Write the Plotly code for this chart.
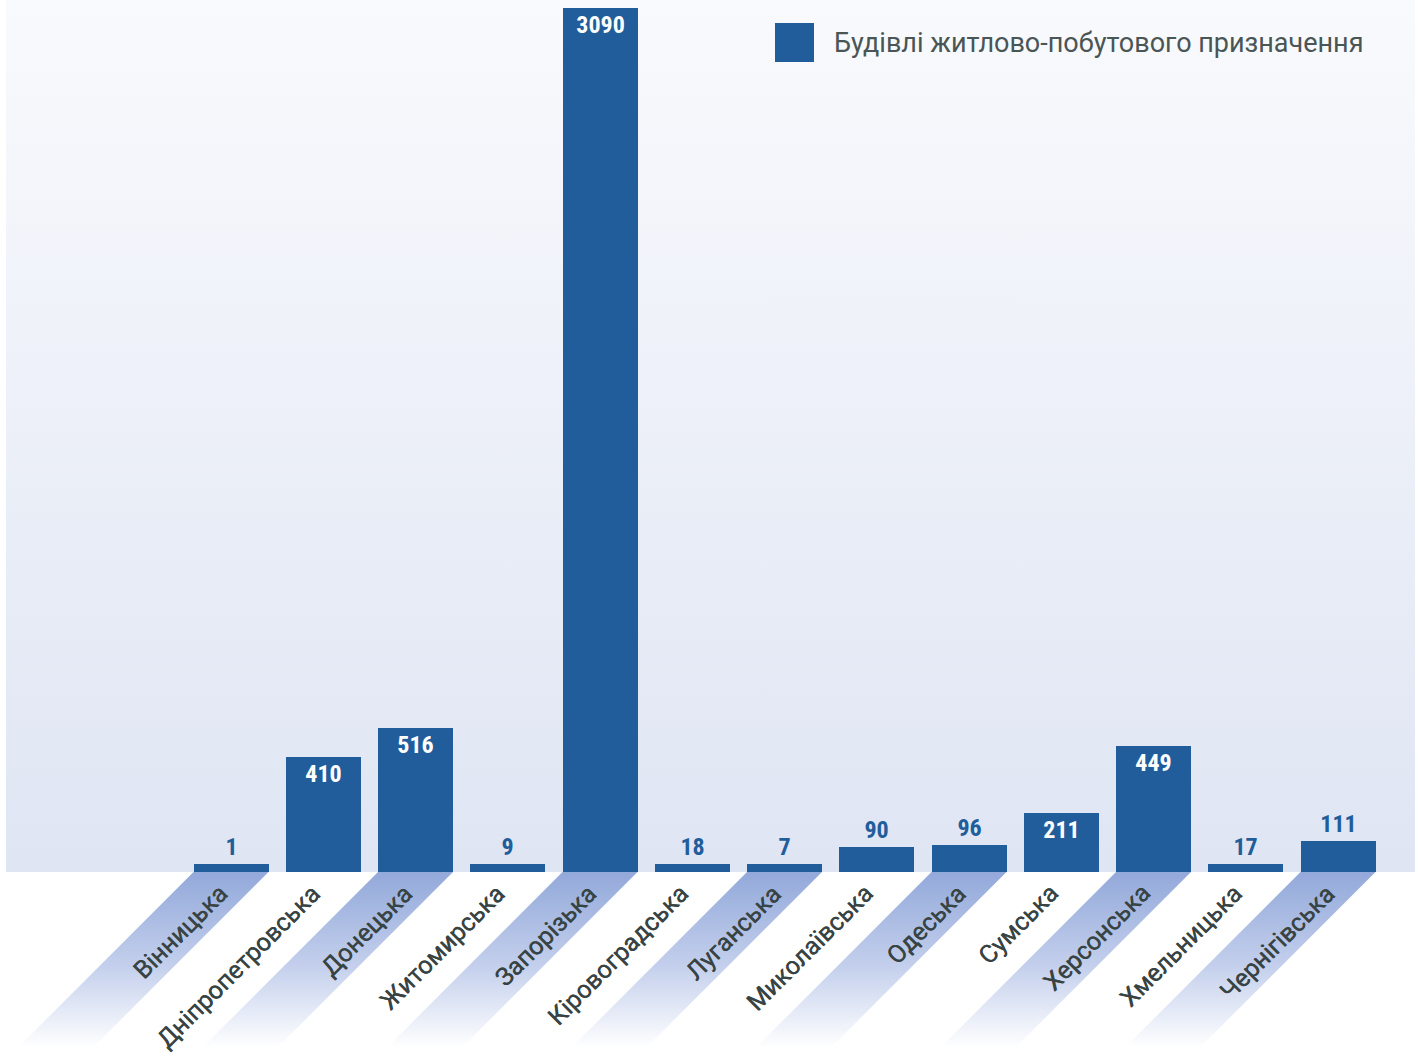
import plotly.graph_objects as go

# ---------------- data ----------------
categories = ["Вінницька", "Дніпропетровська", "Донецька", "Житомирська", "Запорізька",
              "Кіровоградська", "Луганська", "Миколаївська", "Одеська", "Сумська",
              "Херсонська", "Хмельницька", "Чернігівська"]
values = [1, 410, 516, 9, 3090, 18, 7, 90, 96, 211, 449, 17, 111]
series_name = "Будівлі житлово-побутового призначення"

# ---------------- geometry / style ----------------
W, H = 1418, 1059
PX0 = 231.0        # pixel x of first category centre
STEP = 92.25       # pixel distance between categories
BAR_PX = 75.0      # bar width in pixels
BASE_PX = 872.0    # pixel y of the value axis zero
TOP_PX = 8.0       # pixel y reached by the largest bar
MIN_BAR_PX = 8.0   # minimum visible bar height (as in the original chart)
PLOT_L, PLOT_R = 6.0, 1415.0

BAR = "#215d9b"
LABEL_COLOR = "#384444"
VALUE_FONT = "Roboto Condensed, Liberation Sans Narrow, Arial Narrow, DejaVu Sans Condensed, Roboto"

units_per_px = max(values) / (BASE_PX - TOP_PX)


def px2x(p):
    return (p - PX0) / STEP


def py2y(p):
    return (BASE_PX - p) * units_per_px


n = len(categories)
idx = list(range(n))
bar_w = BAR_PX / STEP

fig = go.Figure()

# plot-area background with vertical gradient (drawn on the base subplot)
fig.add_trace(go.Scatter(
    x=[px2x(PLOT_L), px2x(PLOT_R), px2x(PLOT_R), px2x(PLOT_L), px2x(PLOT_L)],
    y=[0, 0, py2y(0), py2y(0), 0],
    mode="lines", line=dict(width=0), fill="toself",
    fillgradient=dict(type="vertical", colorscale=[[0, "#dfe5f3"], [1, "#f9fafd"]]),
    hoverinfo="skip", showlegend=False, xaxis="x", yaxis="y",
))

# diagonal decorative stripes behind every other category label
drop_px = H - BASE_PX
shift = drop_px / STEP
y_bottom = py2y(H)
for i in range(0, n, 2):
    xl, xr = i - bar_w / 2, i + bar_w / 2
    fig.add_trace(go.Scatter(
        x=[xl, xr, xr - shift, xl - shift, xl],
        y=[0, 0, y_bottom, y_bottom, 0],
        mode="lines", line=dict(width=0), fill="toself",
        fillgradient=dict(type="vertical",
                          colorscale=[[0, "rgba(255,255,255,1)"], [0.06, "rgba(255,255,255,1)"],
                                      [0.5, "#c3cfec"], [1, "#93a9da"]]),
        hoverinfo="skip", showlegend=False, xaxis="x", yaxis="y",
    ))

# bars (on an overlaid subplot so they sit above the gradient fills)
min_units = MIN_BAR_PX * units_per_px
fig.add_trace(go.Bar(
    x=idx,
    y=[max(v, min_units) for v in values],
    width=bar_w,
    marker=dict(color=BAR, line=dict(width=0)),
    text=[str(v) for v in values],
    textposition=["inside" if v >= 200 else "outside" for v in values],
    insidetextanchor="end",
    textangle=0,
    insidetextfont=dict(family=VALUE_FONT, size=24, color="white", weight=700),
    outsidetextfont=dict(family=VALUE_FONT, size=24, color=BAR, weight=700),
    customdata=values,
    hovertemplate="%{customdata}<extra></extra>",
    cliponaxis=False,
    name=series_name,
    showlegend=False,
    xaxis="x2", yaxis="y2",
))

# category labels
annotations = []
for i, c in enumerate(categories):
    annotations.append(dict(
        x=i + 5 / STEP, y=py2y(BASE_PX + 4), xref="x", yref="y",
        text=c, showarrow=False, textangle=-45,
        xanchor="right", yanchor="top",
        font=dict(family="Roboto, Noto Sans, sans-serif", size=25, color=LABEL_COLOR,
                  shadow="0.4px 0.4px 0px #384444"),
    ))

# legend (square + text)
annotations.append(dict(
    x=832 / W, y=1 - 43 / H, xref="paper", yref="paper",
    text=series_name, showarrow=False, xanchor="left", yanchor="middle",
    font=dict(family="Roboto, Noto Sans, sans-serif", size=27, color="#4a5555"),
))
shapes = [dict(type="rect", xref="paper", yref="paper",
               x0=775 / W, x1=814 / W, y0=1 - 62 / H, y1=1 - 23 / H,
               fillcolor=BAR, line=dict(width=0))]

xr_ = [px2x(0), px2x(W)]
yr_ = [py2y(H), py2y(0)]
fig.update_layout(
    width=W, height=H, autosize=False,
    margin=dict(l=0, r=0, t=0, b=0),
    paper_bgcolor="white", plot_bgcolor="rgba(0,0,0,0)",
    xaxis=dict(range=xr_, visible=False, showgrid=False, zeroline=False, fixedrange=True),
    yaxis=dict(range=yr_, visible=False, showgrid=False, zeroline=False, fixedrange=True),
    xaxis2=dict(range=xr_, visible=False, showgrid=False, zeroline=False, fixedrange=True,
                overlaying="x", anchor="y2"),
    yaxis2=dict(range=yr_, visible=False, showgrid=False, zeroline=False, fixedrange=True,
                overlaying="y", anchor="x2"),
    bargap=0,
    showlegend=False,
    annotations=annotations,
    shapes=shapes,
    uniformtext=dict(minsize=24, mode="show"),
)

fig.write_html("out.html", config={"displayModeBar": False},
               post_script="document.body.style.margin='0';document.body.style.overflow='hidden';")
